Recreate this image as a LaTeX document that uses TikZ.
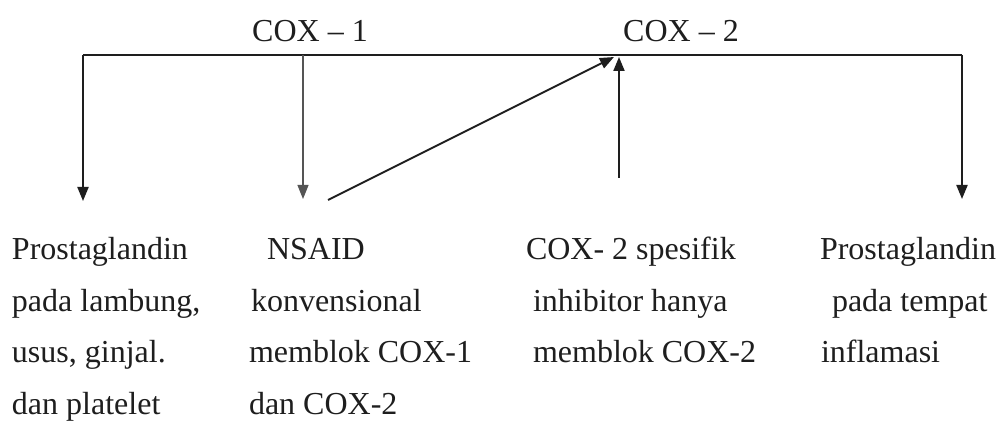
\documentclass[tikz,border=0pt]{standalone}
\usepackage{fontspec}
\setmainfont{Liberation Serif}
\usetikzlibrary{arrows.meta}
\definecolor{ink}{HTML}{1E1E1E}
\definecolor{thinink}{HTML}{555555}
\tikzset{
  lbl/.style={inner sep=0pt, outer sep=0pt, anchor=base west, text=ink,
    font=\fontsize{32}{38}\selectfont},
  head/.style={inner sep=0pt, outer sep=0pt, anchor=base, text=ink,
    font=\fontsize{32}{38}\selectfont},
  wire/.style={draw=ink, line width=2pt},
  thinwire/.style={draw=thinink, line width=1.1pt},
  tip/.style={-{Triangle[length=14pt,width=11pt]}}
}
\begin{document}
\begin{tikzpicture}[x=1pt,y=-1pt]
\useasboundingbox[fill=white] (0,0) rectangle (997,430);
% headings
\node[head] (cox1) at (310,42) {COX -- 1};
\node[head] (cox2) at (681,42) {COX -- 2};
% junction coordinates on the bar
\coordinate (tl) at (83,55);
\coordinate (tr) at (962,55);
\coordinate (m1) at (303,55);
\coordinate (jd) at (614,57);
\coordinate (ju) at (619,57);
% free ends
\coordinate (e1) at (83,201);
\coordinate (e2) at (303,199);
\coordinate (d0) at (328,200);
\coordinate (u0) at (619,178);
\coordinate (e4) at (962,199);
% column 1
\node[lbl] (c1a) at (12,260) {Prostaglandin};
\node[lbl] (c1b) at (12,312) {pada lambung,};
\node[lbl] (c1c) at (12,363) {usus, ginjal.};
\node[lbl] (c1d) at (12,415) {dan platelet};
% column 2
\node[lbl] (c2a) at (267,260) {NSAID};
\node[lbl] (c2b) at (251,312) {konvensional};
\node[lbl] (c2c) at (249,363) {memblok COX-1};
\node[lbl] (c2d) at (249,415) {dan COX-2};
% column 3
\node[lbl] (c3a) at (526,260) {COX- 2 spesifik};
\node[lbl] (c3b) at (533,312) {inhibitor hanya};
\node[lbl] (c3c) at (533,363) {memblok COX-2};
% column 4
\node[lbl] (c4a) at (820,260) {Prostaglandin};
\node[lbl] (c4b) at (832,312) {pada tempat};
\node[lbl] (c4c) at (821,363) {inflamasi};
% connectors
\draw[wire] (tl) -- (tr);
\draw[wire,tip] (tl) -- (e1);
\draw[wire,tip] (tr) -- (e4);
\draw[thinwire,tip] (m1) -- (e2);
\draw[wire,tip] (d0) -- (jd);
\draw[wire,tip] (u0) -- (ju);
\end{tikzpicture}
\end{document}
